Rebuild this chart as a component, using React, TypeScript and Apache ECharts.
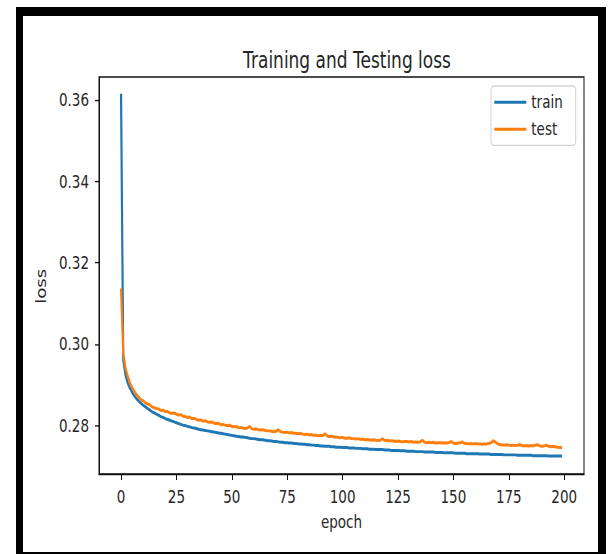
import React, { useEffect, useRef } from "react";
import * as echarts from "echarts";

const xTicks = [0, 25, 50, 75, 100, 125, 150, 175, 200];
const yTicks = [0.28, 0.3, 0.32, 0.34, 0.36];

const trainLoss = [
  0.3616, 0.2962, 0.2925, 0.2905, 0.2892, 0.2882, 0.2873, 0.2866, 0.286, 0.2855,
  0.285, 0.2846, 0.2842, 0.2838, 0.2834, 0.2831, 0.2828, 0.2825, 0.2822, 0.282,
  0.2817, 0.2815, 0.2813, 0.2811, 0.2809, 0.2807, 0.2805, 0.2803, 0.2801, 0.28,
  0.2798, 0.2797, 0.2795, 0.2794, 0.2793, 0.2791, 0.279, 0.2789, 0.2788, 0.2787,
  0.2786, 0.2785, 0.2784, 0.2783, 0.2782, 0.2781, 0.278, 0.2779, 0.2778, 0.2777,
  0.2776, 0.2775, 0.2774, 0.2773, 0.2772, 0.2772, 0.2771, 0.277, 0.2769, 0.2768,
  0.2768, 0.2767, 0.2766, 0.2765, 0.2765, 0.2764, 0.2763, 0.2763, 0.2762, 0.2761,
  0.2761, 0.276, 0.2759, 0.2759, 0.2758, 0.2758, 0.2757, 0.2757, 0.2756, 0.2756,
  0.2755, 0.2755, 0.2754, 0.2754, 0.2753, 0.2753, 0.2752, 0.2752, 0.2751, 0.2751,
  0.275, 0.275, 0.2749, 0.2749, 0.2749, 0.2748, 0.2748, 0.2747, 0.2747, 0.2747,
  0.2746, 0.2746, 0.2746, 0.2745, 0.2745, 0.2745, 0.2744, 0.2744, 0.2744, 0.2743,
  0.2743, 0.2743, 0.2742, 0.2742, 0.2742, 0.2741, 0.2741, 0.2741, 0.2741, 0.274,
  0.274, 0.274, 0.2739, 0.2739, 0.2739, 0.2739, 0.2738, 0.2738, 0.2738, 0.2737,
  0.2737, 0.2737, 0.2737, 0.2736, 0.2736, 0.2736, 0.2736, 0.2735, 0.2735, 0.2735,
  0.2735, 0.2735, 0.2734, 0.2734, 0.2734, 0.2734, 0.2733, 0.2733, 0.2733, 0.2733,
  0.2733, 0.2732, 0.2732, 0.2732, 0.2732, 0.2732, 0.2731, 0.2731, 0.2731, 0.2731,
  0.2731, 0.2731, 0.273, 0.273, 0.273, 0.273, 0.273, 0.2729, 0.2729, 0.2729,
  0.2729, 0.2729, 0.2729, 0.2728, 0.2728, 0.2728, 0.2728, 0.2728, 0.2728, 0.2727,
  0.2727, 0.2727, 0.2727, 0.2727, 0.2727, 0.2727, 0.2726, 0.2726, 0.2726, 0.2726,
  0.2726, 0.2726, 0.2726, 0.2725, 0.2725, 0.2725, 0.2725, 0.2725, 0.2725, 0.2725,
];

const testLoss = [
  0.3137, 0.2978, 0.2942, 0.2921, 0.2905, 0.2893, 0.2884, 0.2876, 0.287, 0.2864,
  0.2861, 0.2856, 0.2853, 0.2851, 0.2846, 0.2844, 0.2842, 0.2841, 0.2837, 0.2838,
  0.2834, 0.2835, 0.2831, 0.283, 0.2831, 0.2828, 0.2826, 0.2827, 0.2823, 0.2822,
  0.282, 0.2821, 0.2817, 0.2818, 0.2815, 0.2813, 0.2814, 0.2811, 0.2812, 0.2809,
  0.2808, 0.2809, 0.2806, 0.2805, 0.2806, 0.2802, 0.2803, 0.2801, 0.28, 0.2801,
  0.2798, 0.2797, 0.2798, 0.2795, 0.2795, 0.2794, 0.2793, 0.2794, 0.2798, 0.2792,
  0.2791, 0.2792, 0.279, 0.2789, 0.279, 0.2788, 0.2787, 0.2787, 0.2786, 0.2785,
  0.2786, 0.279, 0.2785, 0.2784, 0.2783, 0.2784, 0.2782, 0.2783, 0.2781, 0.2781,
  0.278, 0.2781, 0.2779, 0.2778, 0.2779, 0.2777, 0.2778, 0.2776, 0.2777, 0.2775,
  0.2776, 0.2775, 0.278, 0.2775, 0.2773, 0.2774, 0.2772, 0.2772, 0.2771, 0.277,
  0.2771, 0.2769, 0.2769, 0.277, 0.2768, 0.2768, 0.2767, 0.2768, 0.2766, 0.2767,
  0.2765, 0.2766, 0.2765, 0.2764, 0.2765, 0.2764, 0.2763, 0.2764, 0.2768, 0.2763,
  0.2764, 0.2762, 0.2763, 0.2762, 0.2761, 0.2762, 0.2761, 0.276, 0.2761, 0.2761,
  0.276, 0.2761, 0.2759, 0.276, 0.2759, 0.276, 0.2764, 0.2759, 0.2758, 0.2759,
  0.2758, 0.2759, 0.2757, 0.2758, 0.2758, 0.2757, 0.2758, 0.2757, 0.2758, 0.2761,
  0.2757, 0.2756, 0.2757, 0.2757, 0.276, 0.2756, 0.2756, 0.2755, 0.2756, 0.2755,
  0.2756, 0.2755, 0.2755, 0.2754, 0.2755, 0.2755, 0.2756, 0.2758, 0.2763, 0.2759,
  0.2755, 0.2753, 0.2753, 0.2752, 0.2753, 0.2752, 0.2751, 0.2752, 0.2751, 0.2752,
  0.2753, 0.2751, 0.275, 0.2751, 0.275, 0.2751, 0.275, 0.2752, 0.2753, 0.275,
  0.2749, 0.275, 0.2752, 0.2749, 0.2748, 0.2749, 0.2748, 0.2747, 0.2746, 0.2746,
];

const S = 1.35; // vertical stretch of the reference picture
const W = 616;
const H = 554;
const FONT = "DejaVu Sans";
const TEXT = "#262626";

export default function App() {
  const ref = useRef<HTMLDivElement>(null);

  useEffect(() => {
    document.body.style.margin = "0";
    if (!ref.current) return;
    const chart = echarts.init(ref.current, undefined, { renderer: "svg" });
    const y = (v: number) => v / S;
    chart.setOption({
      animation: false,
      backgroundColor: "transparent",
      title: {
        text: "Training and Testing loss",
        left: 342,
        textAlign: "center",
        top: y(60) - 13.5,
        textStyle: { fontFamily: FONT, fontSize: 17, fontWeight: "normal", color: TEXT },
      },
      legend: {
        orient: "vertical",
        left: 491,
        top: y(86),
        padding: [5, 13, 5, 3.3],
        itemWidth: 32,
        itemHeight: 2.2,
        itemGap: 6,
        icon: "rect",
        borderColor: "#d3d3d3",
        borderWidth: 1,
        borderRadius: 3,
        backgroundColor: "rgba(255,255,255,0.8)",
        textStyle: { fontFamily: FONT, fontSize: 13.5, color: TEXT, lineHeight: 14 },
        data: ["train", "test"],
      },
      grid: {
        left: 99,
        top: y(77),
        width: 485,
        height: y(474) - y(77),
        show: true,
        borderColor: "#111",
        borderWidth: 1,
        containLabel: false,
      },
      xAxis: {
        type: "value",
        min: -9.95,
        max: 208.95,
        name: "epoch",
        nameLocation: "middle",
        nameGap: 28,
        nameTextStyle: { fontFamily: FONT, fontSize: 13.5, color: TEXT },
        axisLine: { show: true, onZero: false, lineStyle: { color: "#111", width: 1 } },
        axisTick: { show: true, length: 4.5, customValues: xTicks, lineStyle: { color: "#111" } },
        axisLabel: {
          customValues: xTicks,
          margin: 9.5,
          fontFamily: FONT,
          fontSize: 13.5,
          color: TEXT,
          formatter: (v: number) => String(v),
        },
        splitLine: { show: false },
      },
      yAxis: {
        type: "value",
        min: 0.2681,
        max: 0.3657,
        name: "loss",
        nameLocation: "middle",
        nameGap: 49,
        nameTextStyle: { fontFamily: FONT, fontSize: 13.5, color: TEXT, padding: [0, 16, 0, 0] },
        axisLine: { show: true, onZero: false, lineStyle: { color: "#111", width: 1 } },
        axisTick: { show: true, length: 4, customValues: yTicks, lineStyle: { color: "#111" } },
        axisLabel: {
          customValues: yTicks,
          margin: 10,
          fontFamily: FONT,
          fontSize: 13.5,
          color: TEXT,
          formatter: (v: number) => v.toFixed(2),
        },
        splitLine: { show: false },
      },
      series: [
        {
          name: "train",
          type: "line",
          data: trainLoss.map((v, i) => [i, v]),
          showSymbol: false,
          color: "#1f77b4",
          lineStyle: { width: 2.2, color: "#1f77b4" },
        },
        {
          name: "test",
          type: "line",
          data: testLoss.map((v, i) => [i, v]),
          showSymbol: false,
          color: "#ff7f0e",
          lineStyle: { width: 2.2, color: "#ff7f0e" },
        },
      ],
    });
    return () => chart.dispose();
  }, []);

  const band = (l: number, t: number, w: number, h: number): React.CSSProperties => ({
    position: "absolute",
    left: l,
    top: t,
    width: w,
    height: h,
    background: "#000",
  });

  return (
    <div style={{ position: "fixed", left: 0, top: 0, width: W, height: H, overflow: "hidden", background: "#fff" }}>
      <div
        ref={ref}
        style={{
          position: "absolute",
          left: 0,
          top: 0,
          width: W,
          height: H / S,
          transform: `scaleY(${S})`,
          transformOrigin: "0 0",
        }}
      />
      <div style={band(16, 7, 590, 9)} />
      <div style={band(16, 7, 7, 547)} />
      <div style={band(598, 7, 8, 547)} />
      <div style={band(16, 552, 590, 2)} />
    </div>
  );
}
